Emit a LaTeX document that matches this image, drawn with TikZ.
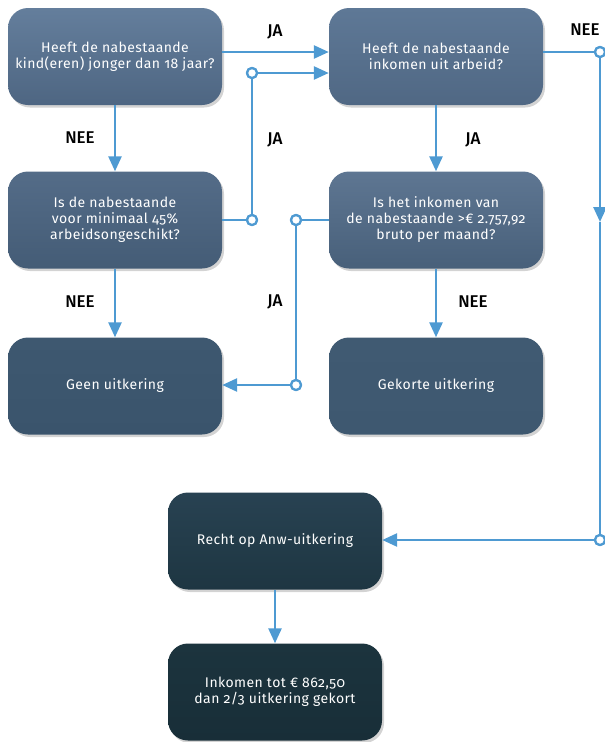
\documentclass[tikz,border=0pt]{standalone}
\usepackage{fontspec}
\setmainfont{Fira Sans}[Numbers=OldStyle, LetterSpace=3]
\newfontfamily\lblfont{Fira Sans}[UprightFont={* Medium}]
\usetikzlibrary{arrows.meta,shadows}
\definecolor{flowblue}{RGB}{78,154,210}
\tikzset{
  box/.style={rounded corners=20pt, minimum width=214pt, minimum height=97pt,
    text=white, align=center, inner sep=2pt, font=\fontsize{14}{16}\selectfont,
    drop shadow={shadow xshift=2pt, shadow yshift=-2.5pt, opacity=0.35}},
  conn/.style={draw=flowblue, line width=2.6pt},
  arr/.style={conn, -{Triangle[length=15pt,width=13pt]}},
  dot/.style={circle, draw=flowblue, fill=white, line width=2.2pt, inner sep=0pt, minimum size=10pt},
  lbl/.style={font=\lblfont\fontsize{17}{17}\selectfont, text=black}
}
\begin{document}
\begin{tikzpicture}[x=1pt,y=-1pt]
\useasboundingbox (0,0) rectangle (605,742);
% boxes
\node[box, top color={rgb,255:red,100;green,126;blue,156}, bottom color={rgb,255:red,78;green,102;blue,130}] (b1) at (115,56.5)
  {Heeft de nabestaande\\kind(eren) jonger dan 18 jaar?};
\node[box, top color={rgb,255:red,94;green,120;blue,150}, bottom color={rgb,255:red,80;green,104;blue,132}] (b2) at (436,56.5)
  {Heeft de nabestaande\\inkomen uit arbeid?};
\node[box, top color={rgb,255:red,84;green,108;blue,136}, bottom color={rgb,255:red,68;green,92;blue,118}] (b3) at (115,220)
  {Is de nabestaande\\voor minimaal 45\%\\arbeidsongeschikt?};
\node[box, top color={rgb,255:red,94;green,118;blue,146}, bottom color={rgb,255:red,72;green,96;blue,122}] (b4) at (436,220)
  {Is het inkomen van\\de nabestaande >€ 2.757,92\\bruto per maand?};
\node[box, top color={rgb,255:red,62;green,88;blue,112}, bottom color={rgb,255:red,58;green,84;blue,108}] (b5) at (115,386)
  {Geen uitkering};
\node[box, top color={rgb,255:red,64;green,90;blue,114}, bottom color={rgb,255:red,62;green,88;blue,112}] (b6) at (436,386)
  {Gekorte uitkering};
\node[box, top color={rgb,255:red,40;green,66;blue,82}, bottom color={rgb,255:red,30;green,54;blue,66}] (b7) at (275,541)
  {Recht op Anw-uitkering};
\node[box, top color={rgb,255:red,28;green,52;blue,62}, bottom color={rgb,255:red,24;green,46;blue,56}] (b8) at (275,692)
  {Inkomen tot € 862,50\\dan 2/3 uitkering gekort};
% junction dots
\node[dot] (d1) at (252,73) {};
\node[dot] (d2) at (252,220) {};
\node[dot] (d3) at (296,220) {};
\node[dot] (d4) at (296,385) {};
\node[dot] (d5) at (600,52) {};
\node[dot] (d6) at (600,540) {};
\coordinate (m1) at (600,222);
% connectors
\draw[arr] ([yshift=4.5pt]b1.east) -- ([yshift=4.5pt]b2.west);
\draw[conn] (b3.east) -- (d2);
\draw[conn] (d2) -- (d1);
\draw[arr] (d1) -- (b2.west |- d1);
\draw[arr] (b1.south) -- (b3.north);
\draw[arr] (b3.south) -- (b5.north);
\draw[arr] (b2.south) -- (b4.north);
\draw[arr] (b4.south) -- (b6.north);
\draw[conn] (b4.west) -- (d3);
\draw[conn] (d3) -- (d4);
\draw[arr] (d4) -- (b5.east |- d4);
\draw[conn] ([yshift=4.5pt]b2.east) -- (d5);
\draw[arr] (d5) -- (m1);
\draw[conn] (m1) -- (d6);
\draw[arr] (d6) -- (b7.east |- d6);
\draw[arr] (b7.south) -- (b8.north);
% redraw dots on top
\node[dot] at (d1) {};
\node[dot] at (d2) {};
\node[dot] at (d3) {};
\node[dot] at (d4) {};
\node[dot] at (d5) {};
\node[dot] at (d6) {};
% labels
\node[lbl] (l1) at (275,32) {JA};
\node[lbl] (l2) at (275,140) {JA};
\node[lbl] (l3) at (473,140) {JA};
\node[lbl] (l4) at (275,302) {JA};
\node[lbl] (l5) at (80,138) {NEE};
\node[lbl] (l6) at (80,302) {NEE};
\node[lbl] (l7) at (473,302) {NEE};
\node[lbl] (l8) at (585,30) {NEE};
\end{tikzpicture}
\end{document}
